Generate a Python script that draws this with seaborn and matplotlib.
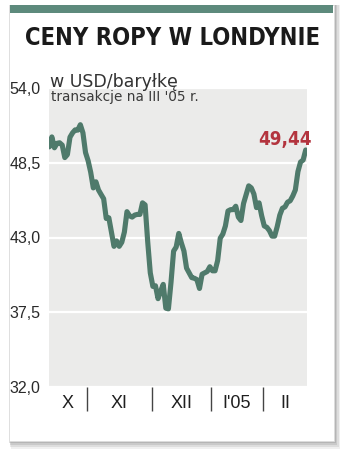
import numpy as np
import pandas as pd
import matplotlib
matplotlib.use("Agg")
import matplotlib.pyplot as plt
import seaborn as sns
from matplotlib import font_manager
from matplotlib.patches import Rectangle

# ---------------- data ----------------
title = "CENY ROPY W LONDYNIE"
unit_label = "w USD/baryłkę"
note_label = "transakcje na III '05 r."
last_label = "49,44"

prices = [
    49.67, 50.40, 49.60, 49.93, 49.97, 49.80, 48.88, 49.10, 50.38, 50.70,
    50.92, 50.90, 51.30, 50.70, 49.25, 48.65, 47.80, 46.65, 47.10, 46.50,
    46.17, 45.85, 44.40, 44.45, 43.40, 42.35, 42.75, 42.35, 42.65, 43.40,
    44.90, 44.60, 44.50, 44.65, 44.70, 44.70, 45.55, 45.40, 42.70, 40.40,
    39.40, 39.45, 38.50, 39.05, 39.55, 37.80, 37.75, 39.70, 42.00, 42.30,
    43.30, 42.60, 42.00, 40.75, 40.40, 40.05, 40.00, 39.90, 39.25, 40.30,
    40.40, 40.50, 40.85, 40.55, 40.55, 41.30, 42.95, 43.25, 43.85, 44.95,
    45.05, 45.05, 45.30, 44.50, 44.25, 45.50, 46.15, 46.80, 46.65, 46.20,
    45.20, 45.55, 44.60, 43.85, 43.75, 43.50, 43.10, 43.10, 43.80, 44.65,
    45.15, 45.25, 45.60, 45.70, 46.05, 46.50, 47.85, 48.55, 48.70, 49.44,
]
month_labels = ["X", "XI", "XII", "I'05", "II"]
month_first_session = [15, 40, 63, 83]   # index of first session of XI, XII, I, II
y_ticks = [32.0, 37.5, 43.0, 48.5, 54.0]

df = pd.DataFrame({"session": np.arange(len(prices)), "price": prices})

# ---------------- style ----------------
sns.set_theme(style="darkgrid", rc={
    "axes.facecolor": "#ebebea",
    "grid.color": "white",
    "grid.linewidth": 1.6,
    "figure.facecolor": "white",
})
plt.rcParams["font.family"] = ["DejaVu Sans"]

ttf = font_manager.fontManager.ttflist
names = {f.name for f in ttf}
has_dejavu_cond = any(f.name == "DejaVu Sans" and "Condensed" in f.fname and "Bold" in f.fname for f in ttf)
if "Liberation Sans Narrow" in names:
    title_font = dict(family=["Liberation Sans Narrow", "DejaVu Sans"], fontsize=20.5, fontweight="bold")
    red_font = dict(family=["Liberation Sans Narrow", "DejaVu Sans"], fontsize=15, fontweight="bold")
elif has_dejavu_cond:
    title_font = dict(family=["DejaVu Sans"], fontstretch="condensed", fontsize=17, fontweight="bold")
    red_font = dict(family=["DejaVu Sans"], fontstretch="condensed", fontsize=13.5, fontweight="bold")
else:
    title_font = dict(family=["Liberation Sans", "DejaVu Sans"], fontsize=17, fontweight="bold")
    red_font = dict(family=["Liberation Sans", "DejaVu Sans"], fontsize=14.5, fontweight="bold")

W, H = 350, 458
fig = plt.figure(figsize=(W / 100, H / 100), dpi=100)

def fx(px):
    return px / W

def fy(py):
    return 1 - py / H

# card shadow (soft) + card + green bar
for i, a in enumerate([0.10, 0.14, 0.18, 0.22]):
    off = 8 - 2 * i
    fig.add_artist(Rectangle((fx(9 + off * 0.2), fy(441 + off)), fx(325 + off * 0.6), fy(5) - fy(441 + off),
                             transform=fig.transFigure, facecolor="#707070", alpha=a,
                             edgecolor="none", zorder=-30))
fig.add_artist(Rectangle((fx(9), fy(441)), fx(325), fy(5) - fy(441), transform=fig.transFigure,
                         facecolor="white", edgecolor="#dddddd", linewidth=0.6, zorder=-20))
fig.add_artist(Rectangle((fx(10), fy(12.5)), fx(323), fy(5) - fy(12.5), transform=fig.transFigure,
                         facecolor="#5d8a7c", edgecolor="none", zorder=-10))

fig.text(fx(172.5), fy(45), title, ha="center", va="baseline", color="#1a1a1a", **title_font)

ax = fig.add_axes([fx(49), fy(387), fx(307) - fx(49), fy(88) - fy(387)])
sns.lineplot(data=df, x="session", y="price", ax=ax, color="#4f7a6b", linewidth=3.7,
             solid_joinstyle="round", solid_capstyle="round")

n = len(prices)
ax.set_xlim(-0.1, n - 1 + 0.5)
ax.set_ylim(y_ticks[0], y_ticks[-1])
ax.set_yticks(y_ticks)
ax.set_yticklabels([f"{v:.1f}".replace(".", ",") for v in y_ticks],
                   family=["Liberation Sans", "DejaVu Sans"])
ax.tick_params(axis="y", length=0, pad=6, labelsize=11.5, labelcolor="#2a2a2a")
ax.xaxis.grid(False)
for s in ax.spines.values():
    s.set_visible(False)
ax.set_xlabel("")
ax.set_ylabel("")

bounds = [b - 0.5 for b in month_first_session]
edges = [ax.get_xlim()[0]] + bounds + [ax.get_xlim()[1]]
centers = [(edges[i] + edges[i + 1]) / 2 for i in range(len(month_labels))]
ax.set_xticks(bounds)
ax.set_xticklabels([])
ax.tick_params(axis="x", which="major", bottom=True, length=17.5, width=1.0,
               color="#444444", direction="out")
ax.set_xticks(centers, minor=True)
ax.set_xticklabels(month_labels, minor=True, fontsize=13, color="#1f1f1f",
                   family=["Liberation Sans", "DejaVu Sans"])
ax.tick_params(axis="x", which="minor", bottom=True, length=0, pad=6)

# header texts inside plot
fig.text(fx(50), fy(87), unit_label, ha="left", va="baseline", fontsize=12.5,
         color="#333333")
fig.text(fx(51), fy(101), note_label, ha="left", va="baseline", fontsize=9.8, color="#3a3a3a")

ax.annotate(last_label, xy=(n - 1, prices[-1]), xytext=(4.5, 3.5), textcoords="offset points",
            ha="right", va="baseline", color="#b3343e", **red_font)

fig.savefig("out.png", dpi=100)
